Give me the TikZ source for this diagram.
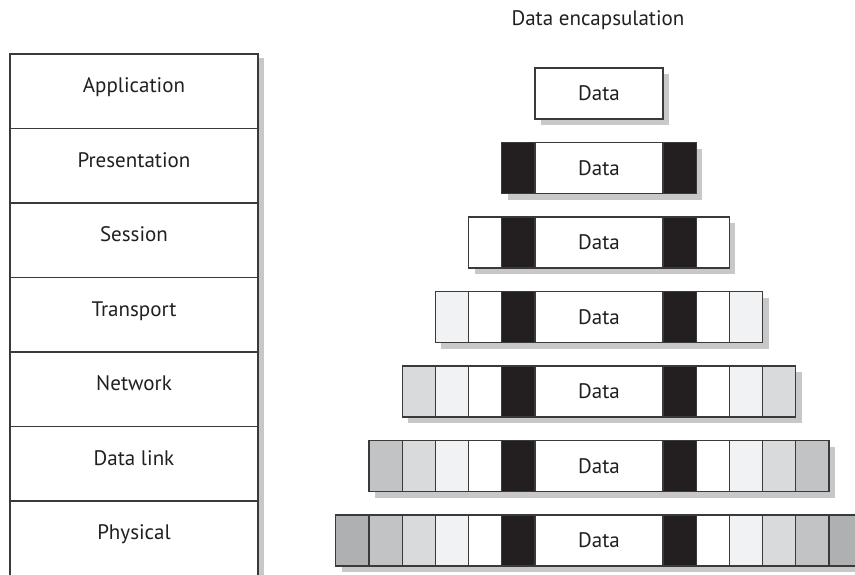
\documentclass[tikz,border=0pt]{standalone}
\usepackage{fontspec}
\setmainfont{PT Sans}
\definecolor{edge}{HTML}{3A3A3A}
\definecolor{shade}{HTML}{C8C8C8}
\definecolor{hblack}{HTML}{231F20}
\definecolor{hwhite}{HTML}{FFFFFF}
\definecolor{hvlight}{HTML}{F1F2F4}
\definecolor{hlight}{HTML}{D9DADC}
\definecolor{hmid}{HTML}{C2C3C5}
\definecolor{hdark}{HTML}{AFB0B2}
\definecolor{ink}{HTML}{231F20}
\tikzset{
  lbl/.style={font=\fontsize{21}{24}\selectfont, text=ink},
  seg/.style={draw=edge, line width=1.2pt},
  shadowbox/.style={fill=shade, draw=none},
}
\begin{document}
\begin{tikzpicture}[x=1pt,y=-1pt]
\useasboundingbox (0,0) rectangle (855,574);
% title
\node[lbl, anchor=base] (title) at (598,25) {Data encapsulation};
% OSI stack
\fill[shadowbox] (16,58) rectangle (264,590);
\foreach \name/\txt [count=\i from 0] in {app/Application,pres/Presentation,sess/Session,trans/Transport,net/Network,dl/Data link,phy/Physical}{
  \pgfmathsetmacro{\yt}{54+74.5*\i}
  \pgfmathsetmacro{\yb}{54+74.5*(\i+1)}
  \pgfmathsetmacro{\yc}{54+74.5*(\i+0.5)+1.5}
  \draw[seg, fill=white] (10,\yt) rectangle (258,\yb);
  \node[lbl, anchor=base] (\name) at (134,\yc) {\txt};
}
% encapsulation rows
\def\w{33.2}
\foreach \r in {0,...,6}{
  \pgfmathsetmacro{\yt}{68+74.5*\r}
  \pgfmathsetmacro{\yb}{\yt+51}
  \pgfmathsetmacro{\xl}{535-\w*\r}
  \pgfmathsetmacro{\xr}{663+\w*\r}
  \fill[shadowbox] (\xl+6,\yt+6) rectangle (\xr+6,\yb+6);
  \draw[seg, fill=white] (535,\yt) rectangle (663,\yb);
  \ifnum\r>0
    \foreach \k/\c in {1/hblack,2/hwhite,3/hvlight,4/hlight,5/hmid,6/hdark}{
      \ifnum\k>\r\else
        \draw[seg, fill=\c] ({535-\w*\k},\yt) rectangle ({535-\w*(\k-1)},\yb);
        \draw[seg, fill=\c] ({663+\w*(\k-1)},\yt) rectangle ({663+\w*\k},\yb);
      \fi
    }
  \fi
  \node[lbl] (data\r) at (599,{\yt+25.5}) {Data};
}
\end{tikzpicture}
\end{document}
